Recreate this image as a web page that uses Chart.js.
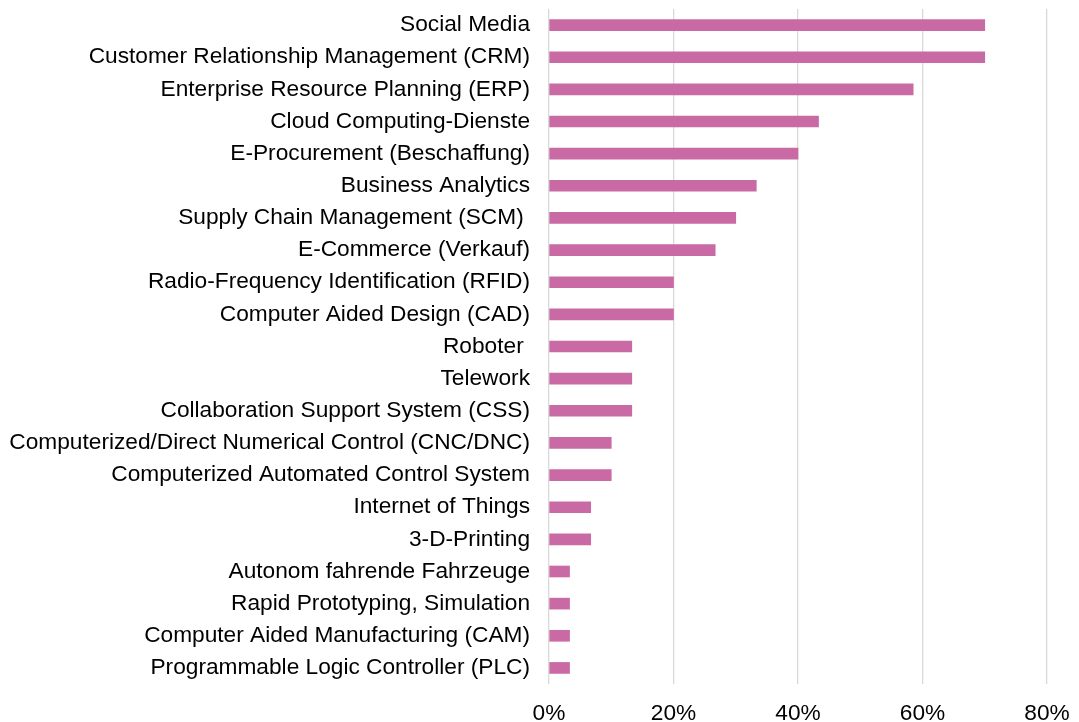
<!DOCTYPE html>
<html>
<head>
<meta charset="utf-8">
<script src="https://cdn.jsdelivr.net/npm/chart.js@4/dist/chart.umd.min.js"></script>
<style>
  body { margin: 0; background: #fff; }
  #wrap { width: 1079px; height: 722px; }
</style>
</head>
<body>
<div id="wrap"><canvas id="myChart"></canvas></div>
<script>
const categories = [
    'Social Media',
    'Customer Relationship Management (CRM)',
    'Enterprise Resource Planning (ERP)',
    'Cloud Computing-Dienste',
    'E-Procurement (Beschaffung)',
    'Business Analytics',
    'Supply Chain Management (SCM) ',
    'E-Commerce (Verkauf)',
    'Radio-Frequency Identification (RFID)',
    'Computer Aided Design (CAD)',
    'Roboter ',
    'Telework',
    'Collaboration Support System (CSS)',
    'Computerized/Direct Numerical Control (CNC/DNC)',
    'Computerized Automated Control System',
    'Internet of Things',
    '3-D-Printing',
    'Autonom fahrende Fahrzeuge',
    'Rapid Prototyping, Simulation',
    'Computer Aided Manufacturing (CAM)',
    'Programmable Logic Controller (PLC)'
];
const shares = [70, 70, 58.5, 43.3, 40, 33.3, 30, 26.7, 20, 20, 13.3, 13.3, 13.3, 10, 10, 6.7, 6.7, 3.3, 3.3, 3.3, 3.3];
const xMin = 0;
const xMax = 80;
const xStep = 20;

const font = { family: '"Liberation Sans", Arial, sans-serif', size: 22.7 };

const config = {
    type: 'bar',
    data: {
        labels: categories,
        datasets: [{
            data: shares,
            backgroundColor: '#C96AA5',
            borderWidth: 0,
            barThickness: 11
        }]
    },
    options: {
        indexAxis: 'y',
        responsive: true,
        maintainAspectRatio: false,
        animation: false,
        layout: { padding: { left: 8, right: 32, top: 9, bottom: 0 } },
        plugins: {
            legend: { display: false },
            tooltip: { enabled: false }
        },
        scales: {
            x: {
                min: xMin,
                max: xMax,
                border: { display: false },
                grid: { color: '#D9D9D9', lineWidth: 1.3, drawTicks: false },
                ticks: {
                    stepSize: xStep,
                    padding: 16,
                    color: '#000',
                    font: font,
                    callback: v => v + '%'
                },
                afterFit: s => { s.height = 38; s.paddingLeft = 0; s.paddingRight = 0; }
            },
            y: {
                border: { display: false },
                grid: { display: false },
                ticks: {
                    autoSkip: false,
                    padding: 11,
                    color: '#000',
                    font: font
                },
                afterFit: s => { s.width = 541; s.paddingTop = 0; s.paddingBottom = 0; }
            }
        }
    }
};

const myChart = new Chart(document.getElementById('myChart'), config);
</script>
</body>
</html>
